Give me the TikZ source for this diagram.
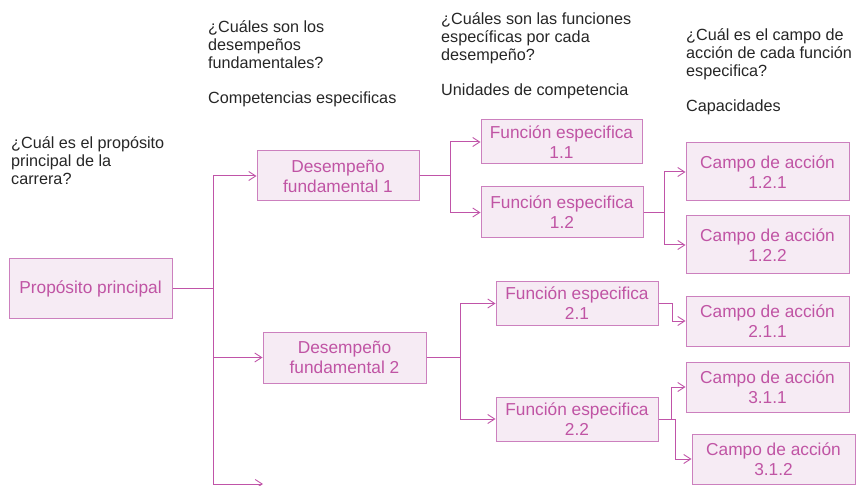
\documentclass[tikz,border=0pt]{standalone}
\usepackage{fontspec}
\setmainfont{Liberation Sans}
\usetikzlibrary{arrows.meta}
\definecolor{boxfill}{RGB}{246,235,244}
\definecolor{boxline}{RGB}{204,128,190}
\definecolor{boxtext}{RGB}{192,84,164}
\definecolor{linec}{RGB}{192,84,168}
\definecolor{labeltext}{RGB}{38,38,38}
\tikzset{
  box/.style={draw=boxline, fill=boxfill, line width=1pt, inner sep=0pt, align=center,
    text=boxtext, font=\fontsize{17.3}{20}\selectfont},
  qlabel/.style={anchor=north west, inner sep=0pt, align=left, text=labeltext,
    font=\fontsize{16.2}{17.7}\selectfont},
  conn/.style={draw=linec, line width=1pt, -{Straight Barb[length=7pt,width=9pt,line width=0.9pt]}}
}
\begin{document}
\begin{tikzpicture}[x=1pt,y=-1pt]
\useasboundingbox (0,0) rectangle (859,486);
% labels
\node[qlabel] (q1) at (11,136.5) {¿Cuál es el propósito\\principal de la\\carrera?};
\node[qlabel] (q2) at (208,20.5) {¿Cuáles son los\\desempeños\\fundamentales?\\[17.7pt]Competencias especificas};
\node[qlabel] (q3) at (441,12.5) {¿Cuáles son las funciones\\específicas por cada\\desempeño?\\[17.7pt]Unidades de competencia};
\node[qlabel] (q4) at (686,28.5) {¿Cuál es el campo de\\acción de cada función\\especifica?\\[17.7pt]Capacidades};
% boxes
\node[box, minimum width=163pt, minimum height=59pt] (pp) at (90.5,288.5) {Propósito principal};
\node[box, minimum width=162pt, minimum height=50pt] (df1) at (338,176) {Desempeño\\fundamental 1};
\node[box, minimum width=163pt, minimum height=51pt] (df2) at (344.5,357.5) {Desempeño\\fundamental 2};
\node[box, minimum width=161pt, minimum height=44pt] (fe11) at (561.5,142) {Función especifica\\1.1};
\node[box, minimum width=162pt, minimum height=51pt] (fe12) at (562,212.5) {Función especifica\\1.2};
\node[box, minimum width=162pt, minimum height=43pt] (fe21) at (577,303.5) {Función especifica\\2.1};
\node[box, minimum width=162pt, minimum height=44pt] (fe22) at (577,419) {Función especifica\\2.2};
\node[box, minimum width=163pt, minimum height=58pt] (c121) at (767.5,172) {Campo de acción\\1.2.1};
\node[box, minimum width=163pt, minimum height=58pt] (c122) at (767.5,245) {Campo de acción\\1.2.2};
\node[box, minimum width=163pt, minimum height=50pt] (c211) at (767.5,321) {Campo de acción\\2.1.1};
\node[box, minimum width=163pt, minimum height=50pt] (c311) at (767.5,387) {Campo de acción\\3.1.1};
\node[box, minimum width=163pt, minimum height=50pt] (c312) at (773.5,459) {Campo de acción\\3.1.2};
\coordinate (endc) at (263,484);
% connectors
\draw[conn] (pp.east) -- ++(41,0) |- (df1.west);
\draw[conn] (pp.east) -- ++(41,0) |- (df2.west);
\draw[conn] (pp.east) -- ++(41,0) |- (endc);
\draw[conn] (df1.east) -- ++(31,0) |- (fe11.west);
\draw[conn] (df1.east) -- ++(31,0) |- (fe12.west);
\draw[conn] (df2.east) -- ++(34,0) |- (fe21.west);
\draw[conn] (df2.east) -- ++(34,0) |- (fe22.west);
\draw[conn] (fe12.east) -- ++(21,0) |- (c121.west);
\draw[conn] (fe12.east) -- ++(21,0) |- (c122.west);
\draw[conn] (fe21.east) -- ++(14,0) |- (c211.west);
\draw[conn] (fe22.east) -- ++(13,0) |- (c311.west);
\draw[conn] (fe22.east) -- ++(17,0) |- (c312.west);
\end{tikzpicture}
\end{document}
